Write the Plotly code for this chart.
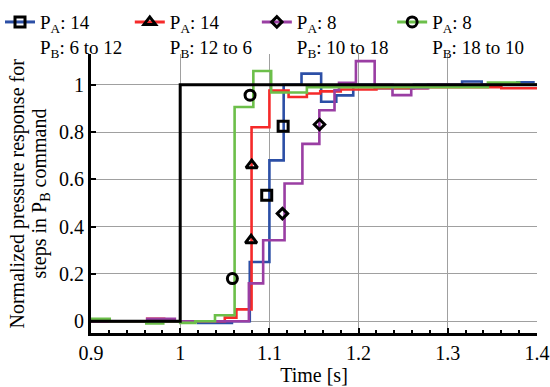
import plotly.graph_objects as go

# ---- data ----
ref_t = [0.9, 1.0, 1.4]
ref_v = [0.0, 1.0, 1.0]

blue_t = [0.900, 1.020, 1.058, 1.078, 1.100, 1.116, 1.136, 1.158, 1.175, 1.194, 1.218, 1.262, 1.316, 1.338, 1.378, 1.396, 1.400]
blue_v = [0.000, -0.008, 0.000, 0.250, 0.680, 1.000, 1.047, 0.928, 0.955, 1.000, 0.985, 1.000, 1.014, 1.000, 1.010, 1.000, 1.000]

red_t = [0.900, 0.963, 0.982, 1.050, 1.063, 1.080, 1.100, 1.1215, 1.142, 1.157, 1.180, 1.220, 1.277, 1.360, 1.400]
red_v = [0.000, 0.010, 0.000, 0.015, 0.050, 0.820, 0.975, 0.948, 0.963, 0.972, 0.980, 0.985, 0.990, 0.985, 0.985]

purple_t = [0.900, 0.963, 0.994, 1.077, 1.093, 1.117, 1.137, 1.156, 1.173, 1.178, 1.197, 1.218, 1.238, 1.259, 1.278, 1.400]
purple_v = [0.000, 0.010, 0.000, 0.160, 0.342, 0.582, 0.750, 0.892, 0.977, 1.008, 1.100, 1.000, 0.956, 0.985, 1.000, 1.000]

green_t = [0.900, 0.921, 0.962, 0.981, 1.000, 1.017, 1.039, 1.061, 1.082, 1.102, 1.142, 1.345, 1.380, 1.400]
green_v = [0.010, 0.000, -0.010, 0.000, -0.007, 0.000, 0.025, 0.906, 1.058, 0.967, 0.990, 1.009, 1.000, 1.000]

# marker positions
blue_mt = [1.097, 1.1154]
blue_mv = [0.533, 0.824]
red_mt = [1.0795, 1.0802]
red_mv = [0.342, 0.660]
purple_mt = [1.1146, 1.1562]
purple_mv = [0.455, 0.832]
green_mt = [1.0585, 1.0783]
green_mv = [0.180, 0.956]

names = [
    "P<sub>A</sub>: 14<br>P<sub>B</sub>: 6 to 12",
    "P<sub>A</sub>: 14<br>P<sub>B</sub>: 12 to 6",
    "P<sub>A</sub>: 8<br>P<sub>B</sub>: 10 to 18",
    "P<sub>A</sub>: 8<br>P<sub>B</sub>: 18 to 10",
]
ytitle_lines = ["Normalized pressure response for", "steps in P<sub>B</sub> command"]
xtitle = "Time [s]"

series = [
    (blue_t, blue_v, blue_mt, blue_mv, "#2c4fa6", "square-open", 10),
    (red_t, red_v, red_mt, red_mv, "#f52a2a", "triangle-up-open", 10),
    (purple_t, purple_v, purple_mt, purple_mv, "#9a3ea3", "diamond-open", 8),
    (green_t, green_v, green_mt, green_mv, "#6cbf4a", "circle-open", 10),
]

legend_ids = ["legend", "legend2", "legend3", "legend4"]
legend_x = [0.0, 0.236, 0.467, 0.713]

FONT = "Liberation Serif, Times New Roman, serif"
FS = 20
fig = go.Figure()

for (t, v, mt, mv, col, sym, ms) in series:
    fig.add_trace(go.Scatter(x=t, y=v, mode="lines", line=dict(color=col, width=2.6, shape="hv"),
                             showlegend=False, hoverinfo="skip"))

fig.add_trace(go.Scatter(x=ref_t, y=ref_v, mode="lines", line=dict(color="black", width=3, shape="hv"),
                         showlegend=False, hoverinfo="skip"))

for (t, v, mt, mv, col, sym, ms), nm, lid in zip(series, names, legend_ids):
    fig.add_trace(go.Scatter(x=mt, y=mv, mode="markers",
                             marker=dict(symbol=sym, size=ms, color="black", line=dict(color="black", width=3)),
                             showlegend=False, hoverinfo="skip"))
    fig.add_trace(go.Scatter(x=[None], y=[None], mode="lines+markers", name=nm, legend=lid,
                             line=dict(color=col, width=3),
                             marker=dict(symbol=sym, size=ms, color="black", line=dict(color="black", width=3))))

legend_common = dict(orientation="h", y=0.992, xref="container", yref="container",
                     xanchor="left", yanchor="top", valign="top",
                     font=dict(family=FONT, size=19, color="black"), bgcolor="rgba(0,0,0,0)",
                     itemwidth=30)
legends = {}
for lid, lx in zip(legend_ids, legend_x):
    legends[lid] = dict(x=lx, **legend_common)

annotations = []
for txt, xs in zip(ytitle_lines, [-74, -51]):
    annotations.append(dict(text=txt, xref="paper", yref="paper", x=0, y=0.5, xshift=xs,
                            xanchor="center", yanchor="middle", textangle=-90, showarrow=False,
                            font=dict(family=FONT, size=FS, color="black")))

fig.update_layout(
    width=550, height=387,
    margin=dict(l=91, r=13, t=54, b=54, autoexpand=False),
    paper_bgcolor="white", plot_bgcolor="white",
    font=dict(family=FONT, size=FS, color="black"),
    showlegend=True,
    annotations=annotations,
    **legends,
    xaxis=dict(range=[0.9, 1.4], dtick=0.1, tick0=0.9, showgrid=True, gridcolor="#a0a0a0", gridwidth=1,
               zeroline=False, showline=True, linecolor="black", linewidth=3,
               ticks="inside", ticklen=5, tickwidth=1.5, tickcolor="black",
               tickfont=dict(family=FONT, size=FS, color="black"),
               minor=dict(dtick=0.02, ticks="inside", ticklen=3, tickwidth=1.5, tickcolor="black", showgrid=False),
               title=dict(text=xtitle, standoff=1, font=dict(family=FONT, size=FS))),
    yaxis=dict(range=[-0.05, 1.13], tickvals=[0, 0.2, 0.4, 0.6, 0.8, 1.0],
               ticktext=["0", "0.2", "0.4", "0.6", "0.8", "1"],
               showgrid=True, gridcolor="#a0a0a0", gridwidth=1,
               zeroline=False, showline=True, linecolor="black", linewidth=3,
               ticks="inside", ticklen=5, tickwidth=1.5, tickcolor="black",
               tickfont=dict(family=FONT, size=FS, color="black")),
)

fig.write_html("out.html")
